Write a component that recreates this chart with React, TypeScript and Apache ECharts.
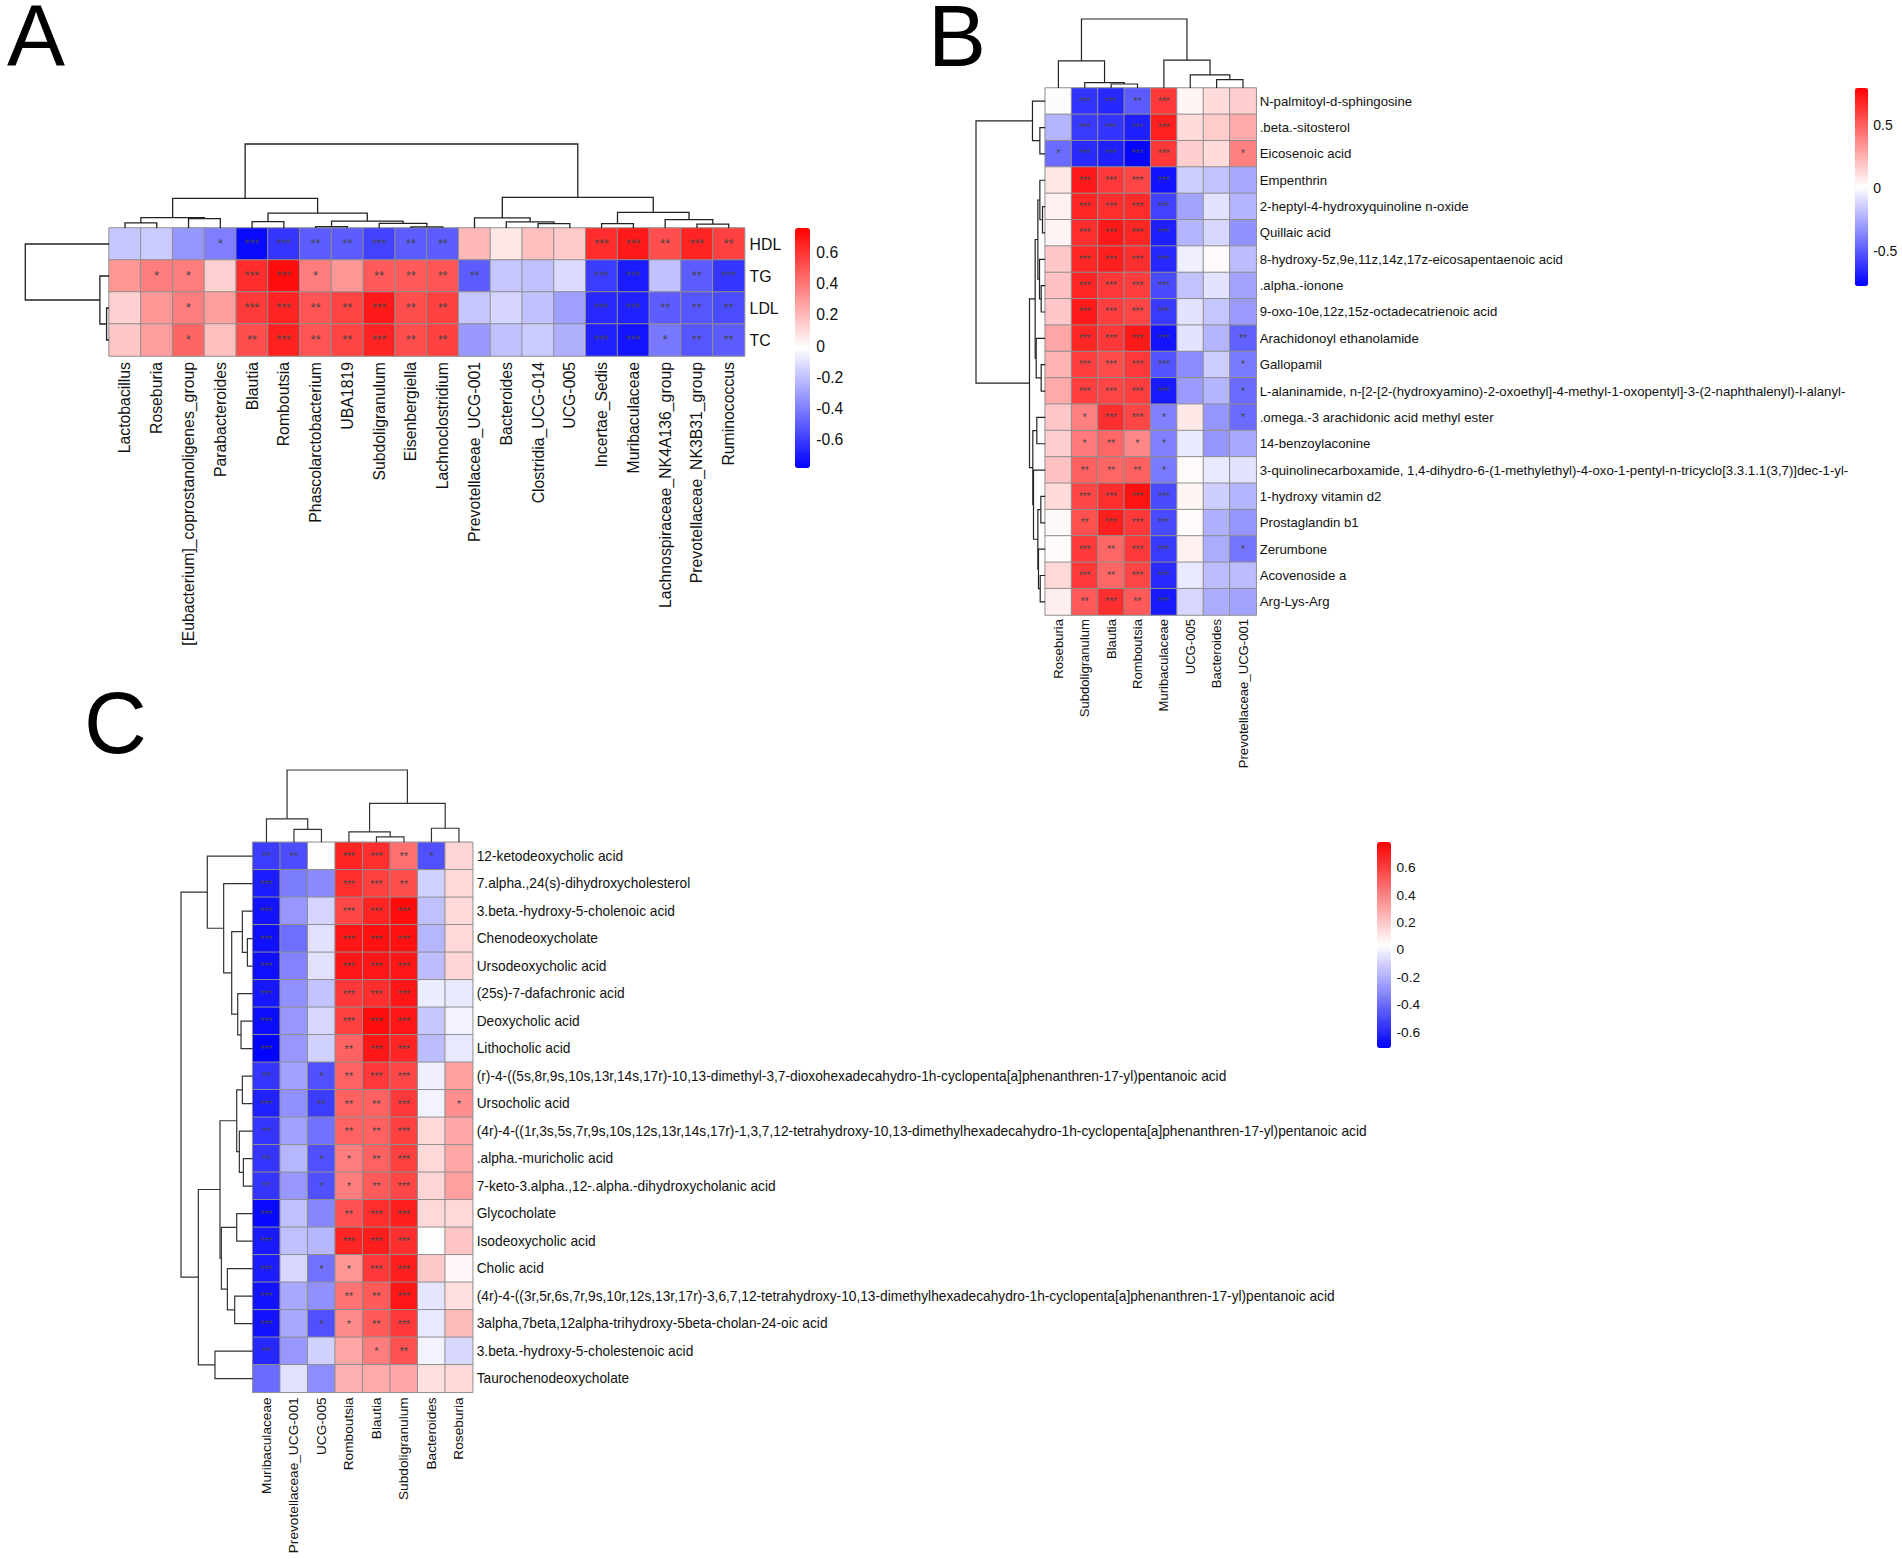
import React, { useEffect, useRef } from "react";
import * as echarts from "echarts";

const FONT = "'Liberation Sans', Arial, sans-serif";

const colsA = ["Lactobacillus","Roseburia","[Eubacterium]_coprostanoligenes_group","Parabacteroides","Blautia","Romboutsia","Phascolarctobacterium","UBA1819","Subdoligranulum","Eisenbergiella","Lachnoclostridium","Prevotellaceae_UCG-001","Bacteroides","Clostridia_UCG-014","UCG-005","Incertae_Sedis","Muribaculaceae","Lachnospiraceae_NK4A136_group","Prevotellaceae_NK3B31_group","Ruminococcus"];
const rowsA = ["HDL","TG","LDL","TC"];
const valuesA = [
  [-0.18,-0.17,-0.33,-0.40,-0.75,-0.62,-0.50,-0.50,-0.58,-0.50,-0.50,0.20,0.06,0.18,0.15,0.62,0.68,0.52,0.65,0.56],
  [0.30,0.38,0.38,0.13,0.62,0.72,0.38,0.30,0.48,0.48,0.50,-0.50,-0.18,-0.20,-0.12,-0.60,-0.70,-0.20,-0.50,-0.62],
  [0.13,0.30,0.38,0.28,0.58,0.65,0.50,0.55,0.68,0.52,0.56,-0.18,-0.14,-0.20,-0.30,-0.66,-0.68,-0.50,-0.52,-0.55],
  [0.16,0.28,0.45,0.18,0.52,0.66,0.50,0.55,0.65,0.52,0.56,-0.32,-0.20,-0.17,-0.25,-0.68,-0.72,-0.42,-0.52,-0.50],
];
const starsA = [
  [0,0,0,1,3,3,2,2,3,2,2,0,0,0,0,3,3,2,3,2],
  [0,1,1,0,3,3,1,0,2,2,2,2,0,0,0,3,3,0,2,3],
  [0,0,1,0,3,3,2,2,3,2,2,0,0,0,0,3,3,2,2,2],
  [0,0,1,0,2,3,2,2,3,2,2,0,0,0,0,3,3,1,2,2],
];
const topTreeA = [1,[0.352,[0.124,[0.06,0,1],[0.112,2,3]],[0.176,[0.077,4,5],[0.082,[0.017,6,7],[0.056,8,[0.013,9,10]]]]],[0.365,[0.12,11,[0.073,12,[0.052,13,14]]],[0.185,[0.052,15,16],[0.099,17,[0.047,18,19]]]]];
const leftTreeA = [1,0,[0.11,1,[0.03,2,3]]];
const ticksA = [-0.6,-0.4,-0.2,0,0.2,0.4,0.6];

const colsB = ["Roseburia","Subdoligranulum","Blautia","Romboutsia","Muribaculaceae","UCG-005","Bacteroides","Prevotellaceae_UCG-001"];
const rowsB = ["N-palmitoyl-d-sphingosine",".beta.-sitosterol","Eicosenoic acid","Empenthrin","2-heptyl-4-hydroxyquinoline n-oxide","Quillaic acid","8-hydroxy-5z,9e,11z,14z,17z-eicosapentaenoic acid",".alpha.-ionone","9-oxo-10e,12z,15z-octadecatrienoic acid","Arachidonoyl ethanolamide","Gallopamil","L-alaninamide, n-[2-[2-(hydroxyamino)-2-oxoethyl]-4-methyl-1-oxopentyl]-3-(2-naphthalenyl)-l-alanyl-",".omega.-3 arachidonic acid methyl ester","14-benzoylaconine","3-quinolinecarboxamide, 1,4-dihydro-6-(1-methylethyl)-4-oxo-1-pentyl-n-tricyclo[3.3.1.1(3,7)]dec-1-yl-","1-hydroxy vitamin d2","Prostaglandin b1","Zerumbone","Acovenoside a","Arg-Lys-Arg"];
const valuesB = [
  [0,-0.62,-0.66,-0.50,0.62,0.04,0.12,0.16],
  [-0.22,-0.60,-0.62,-0.68,0.70,0.12,0.17,0.27],
  [-0.45,-0.65,-0.68,-0.76,0.62,0.16,0.12,0.40],
  [0.08,0.72,0.62,0.58,-0.72,-0.14,-0.18,-0.26],
  [0.05,0.68,0.65,0.66,-0.58,-0.28,-0.08,-0.22],
  [0.04,0.65,0.72,0.68,-0.68,-0.22,-0.12,-0.33],
  [0.18,0.68,0.70,0.65,-0.66,-0.04,0.02,-0.20],
  [0.20,0.68,0.62,0.60,-0.55,-0.18,-0.08,-0.28],
  [0.18,0.72,0.60,0.58,-0.60,-0.08,-0.17,-0.30],
  [0.28,0.68,0.62,0.72,-0.72,-0.08,-0.22,-0.48],
  [0.24,0.60,0.56,0.62,-0.52,-0.35,-0.15,-0.40],
  [0.27,0.60,0.58,0.60,-0.70,-0.30,-0.22,-0.45],
  [0.18,0.40,0.65,0.58,-0.38,0.08,-0.32,-0.45],
  [0.16,0.42,0.48,0.38,-0.38,-0.06,-0.32,-0.26],
  [0.20,0.50,0.48,0.50,-0.40,0.02,-0.06,-0.08],
  [0.12,0.58,0.65,0.74,-0.55,0.04,-0.14,-0.22],
  [0.03,0.55,0.70,0.62,-0.55,0.02,-0.24,-0.32],
  [0.02,0.62,0.48,0.62,-0.60,0.05,-0.25,-0.42],
  [0.13,0.62,0.48,0.58,-0.65,-0.06,-0.20,-0.20],
  [0.06,0.52,0.65,0.52,-0.70,-0.12,-0.25,-0.28],
];
const starsB = [
  [0,3,3,2,3,0,0,0],[0,3,3,3,3,0,0,0],[1,3,3,3,3,0,0,1],[0,3,3,3,3,0,0,0],
  [0,3,3,3,3,0,0,0],[0,3,3,3,3,0,0,0],[0,3,3,3,3,0,0,0],[0,3,3,3,3,0,0,0],
  [0,3,3,3,3,0,0,0],[0,3,3,3,3,0,0,2],[0,3,3,3,3,0,0,1],[0,3,3,3,3,0,0,1],
  [0,1,3,3,1,0,0,1],[0,1,2,1,1,0,0,0],[0,2,2,2,1,0,0,0],[0,3,3,3,3,0,0,0],
  [0,2,3,3,3,0,0,0],[0,3,2,3,3,0,0,1],[0,3,2,3,3,0,0,0],[0,2,3,2,3,0,0,0],
];
const topTreeB = [1,[0.393,0,[0.078,1,[0.058,2,3]]],[0.403,4,[0.189,5,[0.121,6,7]]]];
const leftTreeB = [1,[0.184,0,[0.077,1,2]],[0.227,[0.145,[0.106,[0.077,3,[0.039,4,5]],[0.082,6,[0.058,7,8]]],[0.13,9,[0.058,10,11]]],[0.179,[0.121,12,13],[0.169,14,[0.106,[0.063,15,16],[0.097,17,[0.072,18,19]]]]]]];
const ticksB = [-0.5,0,0.5];

const colsC = ["Muribaculaceae","Prevotellaceae_UCG-001","UCG-005","Romboutsia","Blautia","Subdoligranulum","Bacteroides","Roseburia"];
const rowsC = ["12-ketodeoxycholic acid","7.alpha.,24(s)-dihydroxycholesterol","3.beta.-hydroxy-5-cholenoic acid","Chenodeoxycholate","Ursodeoxycholic acid","(25s)-7-dafachronic acid","Deoxycholic acid","Lithocholic acid","(r)-4-((5s,8r,9s,10s,13r,14s,17r)-10,13-dimethyl-3,7-dioxohexadecahydro-1h-cyclopenta[a]phenanthren-17-yl)pentanoic acid","Ursocholic acid","(4r)-4-((1r,3s,5s,7r,9s,10s,12s,13r,14s,17r)-1,3,7,12-tetrahydroxy-10,13-dimethylhexadecahydro-1h-cyclopenta[a]phenanthren-17-yl)pentanoic acid",".alpha.-muricholic acid","7-keto-3.alpha.,12-.alpha.-dihydroxycholanic acid","Glycocholate","Isodeoxycholic acid","Cholic acid","(4r)-4-((3r,5r,6s,7r,9s,10r,12s,13r,17r)-3,6,7,12-tetrahydroxy-10,13-dimethylhexadecahydro-1h-cyclopenta[a]phenanthren-17-yl)pentanoic acid","3alpha,7beta,12alpha-trihydroxy-5beta-cholan-24-oic acid","3.beta.-hydroxy-5-cholestenoic acid","Taurochenodeoxycholate"];
const valuesC = [
  [-0.54,-0.49,0.03,0.68,0.65,0.46,-0.48,0.16],
  [-0.63,-0.35,-0.31,0.65,0.60,0.56,-0.10,0.15],
  [-0.66,-0.27,-0.09,0.58,0.68,0.75,-0.15,0.15],
  [-0.67,-0.39,-0.05,0.72,0.74,0.74,-0.18,0.15],
  [-0.67,-0.33,-0.05,0.72,0.72,0.72,-0.16,0.16],
  [-0.65,-0.29,-0.14,0.62,0.65,0.72,-0.02,-0.03],
  [-0.68,-0.27,-0.08,0.60,0.75,0.72,-0.13,0],
  [-0.71,-0.27,-0.10,0.50,0.72,0.68,-0.16,-0.03],
  [-0.56,-0.24,-0.48,0.50,0.62,0.58,-0.01,0.32],
  [-0.62,-0.29,-0.54,0.50,0.50,0.62,0,0.37],
  [-0.56,-0.24,-0.38,0.50,0.50,0.60,0.15,0.30],
  [-0.56,-0.18,-0.48,0.42,0.50,0.60,0.15,0.30],
  [-0.56,-0.27,-0.48,0.42,0.52,0.58,0.16,0.32],
  [-0.69,-0.15,-0.32,0.55,0.65,0.70,0.15,0.15],
  [-0.64,-0.15,-0.18,0.68,0.70,0.65,0.04,0.21],
  [-0.63,-0.08,-0.38,0.35,0.62,0.70,0.20,0.06],
  [-0.66,-0.22,-0.29,0.45,0.52,0.72,-0.04,0.13],
  [-0.66,-0.22,-0.48,0.38,0.52,0.62,-0.03,0.24],
  [-0.60,-0.27,-0.10,0.30,0.42,0.55,0,-0.08],
  [-0.40,-0.05,-0.30,0.27,0.29,0.30,0.13,0.15],
];
const starsC = [
  [2,2,0,3,3,2,1,0],[3,0,0,3,3,2,0,0],[3,0,0,3,3,3,0,0],[3,0,0,3,3,3,0,0],
  [3,0,0,3,3,3,0,0],[3,0,0,3,3,3,0,0],[3,0,0,3,3,3,0,0],[3,0,0,2,3,3,0,0],
  [2,0,1,2,3,3,0,0],[3,0,2,2,2,3,0,1],[2,0,0,2,2,3,0,0],[2,0,1,1,2,3,0,0],
  [2,0,1,1,2,3,0,0],[3,0,0,2,3,3,0,0],[3,0,0,3,3,3,0,0],[3,0,1,1,3,3,0,0],
  [3,0,0,2,2,3,0,0],[3,0,1,1,2,3,0,0],[2,0,0,0,1,2,0,0],[0,0,0,0,0,0,0,0],
];
const topTreeC = [1,[0.323,0,[0.18,1,2]],[0.539,[0.143,3,[0.074,4,5]],[0.194,6,7]]];
const leftTreeC = [1,[0.633,0,[0.405,1,[0.293,[0.144,2,[0.074,3,4]],[0.209,5,[0.163,6,7]]]]],[0.758,[0.456,[0.223,[0.144,8,9],[0.186,10,[0.13,11,12]]],[0.437,[0.223,13,14],[0.353,15,[0.251,16,17]]]],[0.526,18,19]]];
const ticksC = [-0.6,-0.4,-0.2,0,0.2,0.4,0.6];

const panelLetters = ["A", "B", "C"];

type Panel = {
  cols: string[]; rows: string[]; values: number[][]; stars: number[][];
  topTree: any; leftTree: any; ticks: number[];
  min: number; max: number;
  x: number; y: number; w: number; h: number;
  topH: number; leftW: number;
  colFont: number; rowFont: number; colMargin: number; rowMargin: number; starFont: number;
  barX: number; barY: number; barW: number; barH: number; barFont: number; barMargin: number;
  dendroWidth: number; dendroColor: string;
};

const panels: Panel[] = [
  { cols: colsA, rows: rowsA, values: valuesA, stars: starsA, topTree: topTreeA, leftTree: leftTreeA, ticks: ticksA,
    min: -0.78, max: 0.755, x: 109.1, y: 228, w: 635.5, h: 128, topH: 84, leftW: 83.8,
    colFont: 15.8, rowFont: 15.8, colMargin: 6, rowMargin: 5, starFont: 12.5,
    barX: 795, barY: 228, barW: 15, barH: 240, barFont: 15.7, barMargin: 6.3,
    dendroWidth: 1.3, dendroColor: "#222" },
  { cols: colsB, rows: rowsB, values: valuesB, stars: starsB, topTree: topTreeB, leftTree: leftTreeB, ticks: ticksB,
    min: -0.78, max: 0.796, x: 1045.2, y: 88, w: 211, h: 527, topH: 69, leftW: 69.2,
    colFont: 13.1, rowFont: 13.2, colMargin: 4, rowMargin: 3.5, starFont: 10,
    barX: 1854.8, barY: 88, barW: 13.4, barH: 198, barFont: 14, barMargin: 5,
    dendroWidth: 1.2, dendroColor: "#222" },
  { cols: colsC, rows: rowsC, values: valuesC, stars: starsC, topTree: topTreeC, leftTree: leftTreeC, ticks: ticksC,
    min: -0.716, max: 0.789, x: 252.7, y: 842.3, w: 220, h: 550, topH: 72.3, leftW: 71.7,
    colFont: 13.7, rowFont: 13.73, colMargin: 5, rowMargin: 4, starFont: 10.5,
    barX: 1377, barY: 842, barW: 14, barH: 206, barFont: 13.7, barMargin: 5.5,
    dendroWidth: 1.2, dendroColor: "#333" },
];

// Turn a nested [height, left, right] tree into one merge record per node.
function merges(tree: any): number[][] {
  const out: number[][] = [];
  const walk = (n: any): [number, number] => {
    if (typeof n === "number") return [n + 0.5, 0];
    const [p1, h1] = walk(n[1]);
    const [p2, h2] = walk(n[2]);
    out.push([p1, p2, h1, h2, n[0]]);
    return [(p1 + p2) / 2, n[0]];
  };
  walk(tree);
  return out;
}

function buildOption() {
  const grid: any[] = [], xAxis: any[] = [], yAxis: any[] = [], series: any[] = [], visualMap: any[] = [];
  const add = (g: any, x: any, y: any) => {
    const i = grid.length;
    grid.push({ containLabel: false, ...g });
    xAxis.push({ gridIndex: i, ...x });
    yAxis.push({ gridIndex: i, ...y });
    return i;
  };
  const hidden = { show: false };

  panels.forEach((p, pi) => {
    const i = add(
      { left: p.x, top: p.y, width: p.w, height: p.h },
      { type: "category", data: p.cols, position: "bottom",
        axisLine: hidden, axisTick: hidden, splitLine: hidden,
        axisLabel: { rotate: 90, interval: 0, margin: p.colMargin, fontSize: p.colFont, fontFamily: FONT, color: "#111", hideOverlap: false } },
      { type: "category", data: p.rows, position: "right", inverse: true,
        axisLine: hidden, axisTick: hidden, splitLine: hidden,
        axisLabel: { interval: 0, margin: p.rowMargin, fontSize: p.rowFont, fontFamily: FONT, color: "#111", hideOverlap: false, padding: [0, 0, 2, 0] } }
    );
    const data: any[] = [];
    p.values.forEach((row, r) => row.forEach((v, c) => data.push([c, r, v])));
    series.push({
      type: "heatmap", xAxisIndex: i, yAxisIndex: i, data, silent: true,
      itemStyle: { borderColor: "#8f8f8f", borderWidth: 1 },
      label: {
        show: true, fontSize: p.starFont, fontFamily: FONT, color: "#444",
        formatter: (o: any) => "*".repeat(p.stars[o.value[1]][o.value[0]]),
      },
      emphasis: { disabled: true },
    });
    visualMap.push({
      type: "continuous", seriesIndex: pi, dimension: 2, min: p.min, max: p.max,
      left: p.barX, top: p.barY, itemWidth: p.barW, itemHeight: p.barH, padding: 0,
      orient: "vertical", calculable: false, hoverLink: false, realtime: false,
      inRange: { color: ["#0000ff", "#ffffff", "#ff0000"] },
    });
  });

  panels.forEach((p) => {
    const style = { stroke: p.dendroColor, lineWidth: p.dendroWidth, fill: "none" };
    const t = add(
      { left: p.x, top: p.y - p.topH, width: p.w, height: p.topH },
      { type: "value", min: 0, max: p.cols.length, show: false },
      { type: "value", min: 0, max: 1, show: false }
    );
    series.push({
      type: "custom", xAxisIndex: t, yAxisIndex: t, data: merges(p.topTree), clip: false, silent: true,
      encode: { x: [0, 1], y: [2, 3, 4] },
      renderItem: (_: any, api: any) => {
        const [a, b, ha, hb, h] = [0, 1, 2, 3, 4].map((k) => api.value(k));
        return { type: "polyline", shape: { points: [api.coord([a, ha]), api.coord([a, h]), api.coord([b, h]), api.coord([b, hb])] }, style };
      },
    });
    const l = add(
      { left: p.x - p.leftW, top: p.y, width: p.leftW, height: p.h },
      { type: "value", min: 0, max: 1, inverse: true, show: false },
      { type: "value", min: 0, max: p.rows.length, inverse: true, show: false }
    );
    series.push({
      type: "custom", xAxisIndex: l, yAxisIndex: l, data: merges(p.leftTree), clip: false, silent: true,
      encode: { y: [0, 1], x: [2, 3, 4] },
      renderItem: (_: any, api: any) => {
        const [a, b, ha, hb, h] = [0, 1, 2, 3, 4].map((k) => api.value(k));
        return { type: "polyline", shape: { points: [api.coord([ha, a]), api.coord([h, a]), api.coord([h, b]), api.coord([hb, b])] }, style };
      },
    });
    add(
      { left: p.barX, top: p.barY, width: p.barW, height: p.barH },
      { type: "value", min: 0, max: 1, show: false },
      { type: "value", min: p.min, max: p.max, position: "right",
        axisLine: hidden, axisTick: hidden, splitLine: hidden,
        axisLabel: { customValues: p.ticks, margin: p.barMargin, fontSize: p.barFont, fontFamily: FONT, color: "#111", showMinLabel: true, showMaxLabel: true } }
    );
  });

  const letterPos = [[7, -8], [928, -8], [84, 679]];
  const graphic = panelLetters.map((text, i) => ({
    type: "text", x: letterPos[i][0], y: letterPos[i][1],
    style: { text, fontSize: 87, fontFamily: FONT, fill: "#000" },
  }));

  return { animation: false, backgroundColor: "#fff", grid, xAxis, yAxis, series, visualMap, graphic };
}

export default function App() {
  const ref = useRef<HTMLDivElement>(null);
  useEffect(() => {
    document.body.style.margin = "0";
    const chart = echarts.init(ref.current!, undefined, { renderer: "svg", width: 1902, height: 1559 });
    chart.setOption(buildOption() as any);
    return () => chart.dispose();
  }, []);
  return <div ref={ref} style={{ width: 1902, height: 1559 }} />;
}
